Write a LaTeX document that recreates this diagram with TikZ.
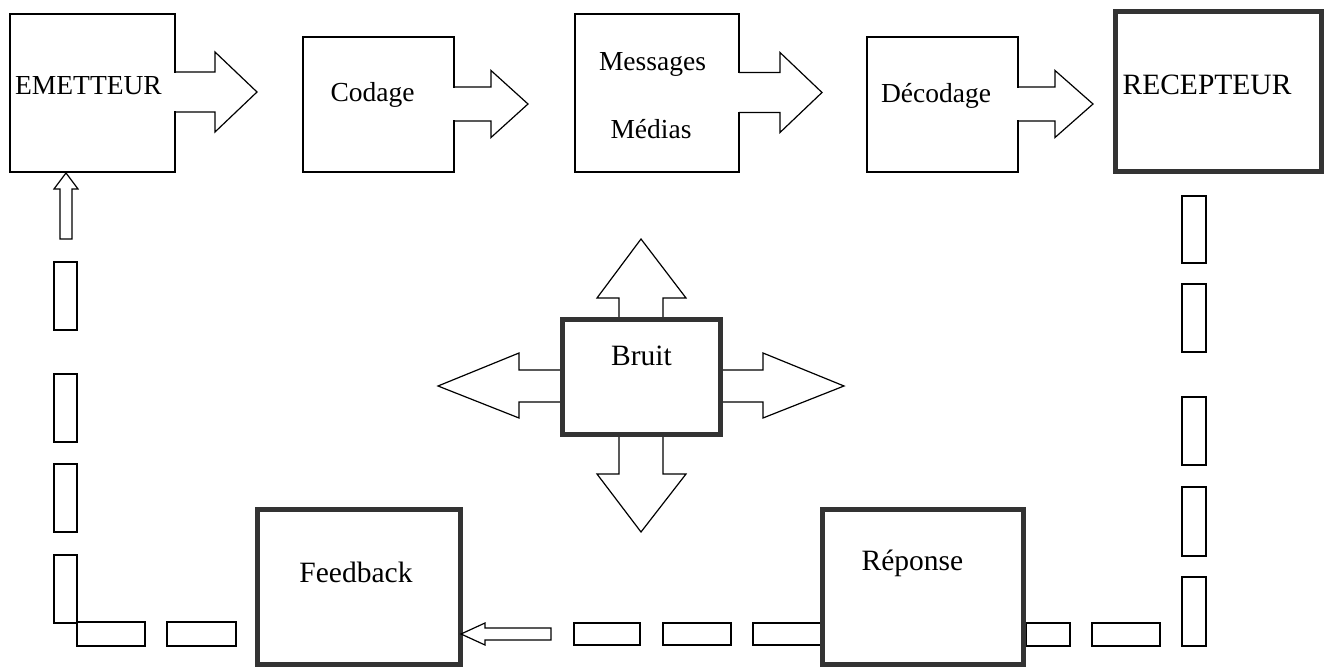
\documentclass[tikz,border=0pt]{standalone}
\usepackage{fontspec}
\setmainfont{Liberation Serif}
\begin{document}
\begin{tikzpicture}[x=1pt,y=-1pt,
    thinbox/.style={draw, line width=1.2pt, inner sep=0pt},
    thickbox/.style={draw=black!80, line width=4.5pt, fill=white, inner sep=0pt},
    thinlabel/.style={inner sep=0pt, anchor=base, font=\fontsize{27.5}{33}\selectfont},
    thicklabel/.style={inner sep=0pt, anchor=base, font=\fontsize{29.5}{35}\selectfont},
    piece/.style={draw, line width=1.2pt},
    hollow/.style={draw, line width=1.2pt, line join=miter}]

        \useasboundingbox (0,0) rectangle (1328,668);

        % Block arrow leaving a box: edge, head base, tip, middle, half shaft, half head
        \newcommand{\blockarrow}[6]{%
          \fill[white] (#1-2,#4-#5+0.6) rectangle (#1+1,#4+#5-0.6);
          \draw[hollow] (#1,#4-#5) -- (#2,#4-#5) -- (#2,#4-#6) -- (#3,#4) -- (#2,#4+#6) -- (#2,#4+#5) -- (#1,#4+#5);}

        % Draw the feedback loop pieces
        \foreach \ya/\yb in {262/330,374/442,464/532,555/623}
          \draw[piece] (54,\ya) rectangle (77,\yb);
        \foreach \xa/\xb in {77/145,167/236}
          \draw[piece] (\xa,622) rectangle (\xb,646);
        \foreach \xa/\xb in {574/640,663/731,753/822}
          \draw[piece] (\xa,623) rectangle (\xb,645);
        \foreach \xa/\xb in {1026/1070,1092/1160}
          \draw[piece] (\xa,623) rectangle (\xb,646);
        \foreach \ya/\yb in {196/263,284/352,397/465,487/556,577/646}
          \draw[piece] (1182,\ya) rectangle (1206,\yb);

        % Draw the arrows around the noise
        \draw[hollow] (619,319) -- (619,298) -- (597,298) -- (641,239) -- (686,298) -- (663,298) -- (663,319);
        \draw[hollow] (619,434) -- (619,474) -- (597,474) -- (641,532) -- (686,474) -- (663,474) -- (663,434);
        \draw[hollow] (562,370) -- (519,370) -- (519,353) -- (438,386) -- (519,418) -- (519,402) -- (562,402);
        \draw[hollow] (720,370) -- (763,370) -- (763,353) -- (844,386) -- (763,418) -- (763,402) -- (720,402);

        % Draw the boxes of the top row
        \node[thinbox, minimum width=165pt, minimum height=158pt] (emetteur) at (92.5,93) {};
        \node[thinbox, minimum width=151pt, minimum height=135pt] (codage) at (378.5,104.5) {};
        \node[thinbox, minimum width=164pt, minimum height=158pt] (messages) at (657,93) {};
        \node[thinbox, minimum width=151pt, minimum height=135pt] (decodage) at (942.5,104.5) {};
        \node[thickbox, minimum width=206pt, minimum height=160pt] (recepteur) at (1218.5,91.5) {};

        % Draw the other boxes
        \node[thickbox, minimum width=158pt, minimum height=115pt] (bruit) at (641.5,377) {};
        \node[thickbox, minimum width=203pt, minimum height=155pt] (feedback) at (359,587) {};
        \node[thickbox, minimum width=201pt, minimum height=155pt] (reponse) at (923,587) {};

        % Draw the arrows of the top row
        \blockarrow{175}{215}{257}{92}{20}{40}
        \blockarrow{454}{491}{528}{104}{17}{33.5}
        \blockarrow{739}{780}{822}{92.5}{20}{40}
        \blockarrow{1018}{1055}{1093}{104}{17}{33.5}

        % Draw the small arrows of the loop
        \draw[hollow] (60,239) -- (60,189) -- (54,189) -- (66,173) -- (78,189) -- (72,189) -- (72,239) -- cycle;
        \draw[hollow] (551,628) -- (485,628) -- (485,623) -- (461,634) -- (485,645) -- (485,640) -- (551,640) -- cycle;

        % Write the texts
        \node[thinlabel] (emetteur-txt) at (88.5,95) {EMETTEUR};
        \node[thinlabel] (codage-txt) at (372.5,102) {Codage};
        \node[thinlabel] (messages-txt) at (652.5,71) {Messages};
        \node[thinlabel] (medias-txt) at (651,139) {Médias};
        \node[thinlabel] (decodage-txt) at (936,103) {Décodage};
        \node[thicklabel] (recepteur-txt) at (1207,95) {RECEPTEUR};
        \node[thicklabel] (bruit-txt) at (641.5,366) {Bruit};
        \node[thicklabel] (feedback-txt) at (356,582) {Feedback};
        \node[thicklabel] (reponse-txt) at (912.5,570) {Réponse};

      \end{tikzpicture}
\end{document}
